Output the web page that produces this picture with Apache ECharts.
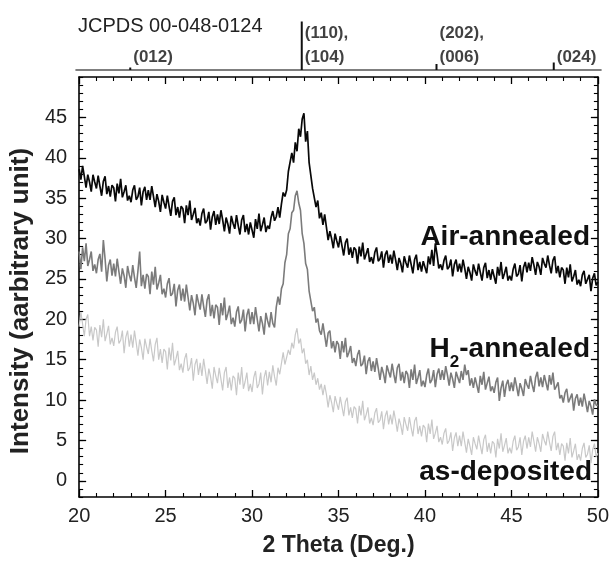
<!DOCTYPE html>
<html>
<head>
<meta charset="utf-8">
<script src="https://cdn.jsdelivr.net/npm/echarts@6/dist/echarts.min.js"></script>
<style>html,body{margin:0;padding:0;background:#fff;}#c{width:612px;height:562px;}</style>
</head>
<body>
<div id="c"></div>
<script>
// 2θ sampling of the scans
const thetaStart = 20;
const thetaStep = 0.1;

// Air-annealed (black), 20.0 .. 50.0 deg
const airAnnealed = [
38.6,37.3,39.0,37.7,36.3,37.9,37.0,35.8,37.9,37.0,
36.2,37.8,36.5,35.3,37.1,37.7,35.5,36.5,35.2,36.6,
36.3,34.6,36.8,35.6,37.4,35.1,35.8,36.6,34.7,35.3,
34.5,36.0,36.6,34.8,35.2,36.3,34.1,35.8,36.4,34.8,
36.0,34.8,36.5,35.2,33.9,35.5,34.6,33.3,35.4,34.5,
33.7,35.3,34.0,32.8,34.6,35.1,32.9,33.9,32.6,34.0,
33.7,31.9,34.1,32.9,34.7,32.3,33.0,33.8,31.9,32.5,
31.6,33.1,33.7,31.9,32.2,33.3,31.1,32.7,33.4,31.7,
33.0,31.8,33.5,32.3,30.9,32.6,31.8,30.6,32.8,31.9,
31.2,32.9,31.6,30.5,32.3,32.9,30.8,31.8,30.5,32.0,
31.8,30.1,32.4,31.2,33.1,30.9,31.7,32.6,30.8,31.6,
31.2,32.6,33.4,32.2,32.7,33.9,32.6,34.3,35.7,35.2,
36.0,38.3,38.1,40.6,39.4,41.9,40.8,43.6,42.6,44.8,
45.5,42.0,43.3,39.4,39.3,36.2,36.1,33.9,34.7,32.5,
33.2,31.7,33.0,31.4,29.8,30.9,30.0,28.8,30.6,29.7,
28.9,30.3,29.1,27.9,29.5,30.0,28.0,28.9,27.6,28.9,
28.6,26.9,29.0,27.8,29.5,27.4,28.1,28.8,27.1,27.7,
26.9,28.3,28.9,27.2,27.5,28.4,26.4,28.0,28.5,27.0,
28.0,26.9,28.5,27.4,26.1,27.6,26.9,25.8,27.8,27.0,
26.4,27.9,26.8,25.7,27.4,28.0,26.1,27.1,25.9,27.2,
27.2,25.7,27.8,26.8,28.6,26.6,29.4,28.0,26.3,26.8,
26.1,27.3,27.9,26.2,26.5,27.4,25.3,26.8,27.4,25.9,
26.9,25.8,27.4,26.3,25.0,26.5,25.8,24.8,26.8,26.0,
25.4,26.9,25.8,24.8,26.4,27.0,25.1,26.1,24.9,26.2,
26.0,24.4,26.5,25.4,27.1,25.0,25.7,26.5,24.8,25.4,
24.8,26.2,26.9,25.3,25.6,26.7,24.7,26.4,27.1,25.8,
27.0,26.0,27.7,26.7,25.5,27.1,26.5,25.5,27.6,26.9,
26.4,27.9,26.7,25.7,27.3,27.8,25.7,26.6,25.2,26.4,
26.1,24.4,26.4,25.2,26.8,24.7,25.3,26.1,24.3,24.9,
24.1,25.5,26.0,24.4,24.6,25.5,23.5,25.1,25.7,24.2,
24.6
];

// H2-annealed (grey)
const h2Annealed = [
28.4,26.2,28.9,27.2,29.4,26.6,27.4,28.4,26.0,26.8,
25.7,27.4,28.1,25.9,29.8,27.5,24.7,26.7,27.4,25.4,
26.9,25.3,27.5,25.9,24.4,26.3,25.4,23.9,26.6,25.5,
24.7,26.7,25.2,23.9,26.0,28.4,24.1,25.5,23.8,25.6,
25.3,23.1,25.9,24.3,26.5,23.7,24.5,25.5,23.1,23.8,
22.7,24.4,25.1,22.9,23.2,24.4,21.6,23.6,24.3,22.3,
23.8,22.2,24.3,22.7,21.1,23.0,22.0,20.5,23.1,22.1,
21.2,23.1,21.6,20.3,22.4,23.1,20.4,21.8,20.1,21.8,
21.5,19.3,22.0,20.5,22.7,19.9,20.7,21.7,19.4,20.2,
19.1,20.9,21.6,19.5,19.9,21.2,18.5,20.5,21.3,19.4,
20.9,19.4,21.5,20.0,18.5,20.4,19.5,18.1,20.8,19.8,
19.0,20.9,19.5,19.0,21.5,22.8,21.8,23.8,24.4,27.0,
28.0,30.6,31.2,33.2,33.5,35.3,35.9,34.4,33.5,30.6,
29.4,26.9,26.2,23.5,23.3,21.0,21.5,19.6,20.1,18.6,
18.1,19.5,18.0,16.6,18.3,18.6,16.4,17.3,15.9,17.3,
16.9,15.1,17.3,15.9,17.7,15.3,15.9,16.7,14.6,15.2,
14.2,15.6,16.2,14.2,14.5,15.5,13.2,14.8,15.3,13.6,
14.8,13.5,15.2,13.9,12.5,14.1,13.3,12.1,14.3,13.5,
12.8,14.5,13.2,12.1,14.0,14.5,12.4,13.5,12.1,13.6,
13.2,11.5,13.8,12.5,14.4,12.0,12.8,13.7,11.7,12.4,
11.6,13.1,13.9,12.1,12.5,13.7,11.6,13.2,13.9,12.5,
13.7,12.5,14.2,13.1,11.8,13.4,12.6,11.5,13.5,12.8,
12.1,13.6,12.5,14.4,13.1,13.7,11.8,12.7,11.5,12.8,
12.6,10.9,13.0,11.9,13.5,11.3,12.1,12.9,11.1,11.7,
10.9,12.2,12.8,9.9,11.5,12.4,10.4,11.9,12.5,11.1,
12.2,11.1,12.8,11.7,10.5,12.1,11.4,10.5,12.6,11.9,
11.4,13.0,11.9,11.0,12.8,13.5,11.7,12.8,11.6,13.1,
12.9,11.2,13.1,11.9,13.4,11.3,11.7,12.2,10.2,10.6,
9.7,10.9,11.4,9.7,9.9,10.8,8.7,10.2,10.7,9.3,
10.3,9.2,10.8,9.7,8.5,9.9,9.2,8.2,10.1,9.4,
9.3
];

// as-deposited (light grey)
const asDeposited = [
19.1,20.9,19.4,17.9,20.0,20.6,17.9,19.1,17.4,19.0,
18.7,16.6,19.3,17.8,20.0,17.3,18.2,19.2,16.9,17.7,
16.7,18.4,19.1,17.0,17.4,18.6,15.8,17.8,18.6,16.6,
18.1,16.5,18.6,17.1,15.5,17.5,16.5,15.0,17.6,16.6,
15.7,17.6,16.1,14.8,16.9,17.7,15.0,16.3,14.6,16.3,
16.0,13.8,16.5,14.9,17.1,14.3,15.1,16.1,13.7,14.5,
13.4,15.1,15.8,13.6,14.0,15.2,12.4,14.4,15.1,13.1,
14.6,13.0,15.1,13.6,12.0,13.9,12.9,11.4,14.1,13.0,
12.1,14.0,12.6,11.2,13.4,14.1,11.5,12.8,11.2,13.0,
12.7,10.6,13.4,11.9,14.1,11.4,12.3,13.4,11.1,12.0,
11.0,12.8,13.6,11.5,12.0,13.4,10.7,12.8,13.7,11.8,
13.5,12.2,14.3,12.9,11.8,14.0,13.2,13.0,15.9,14.4,
14.6,16.2,15.6,17.1,16.4,18.1,18.9,17.0,17.6,15.8,
16.4,14.5,15.0,13.1,14.2,12.5,13.4,11.9,12.7,11.3,
12.0,10.6,11.9,10.7,9.1,10.6,9.7,8.5,10.5,9.6,
8.8,10.4,9.2,8.0,9.8,10.3,8.1,9.1,7.8,9.2,
8.9,7.1,9.3,8.1,9.9,7.5,8.2,9.1,7.1,7.8,
6.9,8.4,9.0,7.2,7.5,8.6,6.4,8.0,8.7,7.0,
8.2,7.0,8.7,7.5,6.1,7.7,6.9,5.7,7.9,7.0,
6.2,7.9,6.6,5.5,7.4,7.9,5.8,6.8,5.5,6.9,
6.6,4.8,7.1,5.8,7.6,5.2,5.9,6.8,4.8,5.4,
4.5,5.9,6.5,4.6,5.0,6.0,3.7,5.3,6.0,4.3,
5.6,4.3,6.1,4.8,3.5,5.2,4.3,3.2,5.4,4.6,
3.9,5.6,4.4,3.3,5.1,5.7,3.6,4.7,3.4,4.9,
4.6,2.9,5.2,4.0,5.9,3.6,4.4,5.3,3.4,4.1,
3.4,4.9,5.6,3.8,4.2,5.4,3.2,4.9,5.6,4.0,
5.4,4.2,6.1,4.9,3.6,5.4,4.6,3.6,5.8,5.0,
4.4,6.1,4.8,3.7,5.5,6.1,3.8,4.7,3.2,4.6,
4.3,2.5,4.7,3.4,5.3,2.9,3.7,4.6,2.6,3.3,
2.5,4.0,4.7,2.9,3.3,4.4,2.2,3.9,4.6,3.0,
3.4
];

// JCPDS 00-048-0124 reference pattern
const refTitle = 'JCPDS 00-048-0124';
const refPeakPos = [23.1, 32.9, 40.6, 47.3];
const refPeakInt = [5, 97, 12, 15];
const refPeakLabel = ['(012)', '(110),\n(104)', '(202),\n(006)', '(024)'];

// axes
const yTickValues = [0, 5, 10, 15, 20, 25, 30, 35, 40, 45];
const seriesLabels = ['Air-annealed', 'H2-annealed', 'as-deposited'];

const toPairs = arr => arr.map((v, i) => [Number((thetaStart + i * thetaStep).toFixed(1)), v]);

const FONT = 'Liberation Sans, Arial, sans-serif';
const chart = echarts.init(document.getElementById('c'), null, { renderer: 'canvas' });

const majorTick = { show: true, inside: true, length: 7, lineStyle: { color: '#000', width: 1.3 } };
const minorTick = { show: true, inside: true, length: 4, lineStyle: { color: '#000', width: 1.1 } };
const frameLine = { show: true, onZero: false, lineStyle: { color: '#000', width: 1.6 } };

const option = {
  animation: false,
  backgroundColor: '#fff',
  title: {
    text: refTitle, left: 73, top: 11,
    textStyle: { fontFamily: FONT, fontSize: 20, fontWeight: 'normal', color: '#222' }
  },
  grid: [
    { left: 76, right: 11, top: 77, bottom: 60 },
    { left: 76, right: 11, top: 20, height: 50 }
  ],
  xAxis: [
    {
      gridIndex: 0, type: 'value', min: 20, max: 50, interval: 5, position: 'bottom',
      axisLine: frameLine, axisTick: majorTick,
      minorTick: { show: true, splitNumber: 5, length: 4, lineStyle: { color: '#000', width: 1.1 } },
      splitLine: { show: false }, minorSplitLine: { show: false },
      axisLabel: { fontFamily: FONT, fontSize: 20, color: '#222', margin: 9 },
      name: '2 Theta (Deg.)', nameLocation: 'middle', nameGap: 37,
      nameTextStyle: { fontFamily: FONT, fontSize: 23, fontWeight: 'bold', color: '#222' }
    },
    {
      gridIndex: 0, type: 'value', min: 20, max: 50, interval: 5, position: 'top',
      axisLine: frameLine, axisTick: majorTick,
      minorTick: { show: true, splitNumber: 5, length: 4, lineStyle: { color: '#000', width: 1.1 } },
      splitLine: { show: false }, axisLabel: { show: false }
    },
    {
      gridIndex: 1, type: 'value', min: 20, max: 50, position: 'bottom',
      axisLine: { show: true, onZero: false, lineStyle: { color: '#555', width: 1.6 } },
      axisTick: { show: false }, axisLabel: { show: false }, splitLine: { show: false }
    }
  ],
  yAxis: [
    {
      gridIndex: 0, type: 'value', min: -2, max: 50, position: 'left', offset: 0,
      axisLine: frameLine,
      axisTick: Object.assign({}, majorTick, { customValues: yTickValues }),
      axisLabel: { fontFamily: FONT, fontSize: 20, color: '#222', margin: 12, customValues: yTickValues },
      splitLine: { show: false },
      name: 'Intensity (aarbitrary unit)', nameLocation: 'middle', nameGap: 44,
      nameTextStyle: { fontFamily: FONT, fontSize: 26, fontWeight: 'bold', color: '#222', padding: [0, 28, 0, 0] }
    },
    {
      gridIndex: 0, type: 'value', min: -2, max: 50, position: 'right', offset: 0,
      axisLine: frameLine,
      axisTick: Object.assign({}, majorTick, { customValues: yTickValues }),
      axisLabel: { show: false }, splitLine: { show: false }
    },
    {
      gridIndex: 0, type: 'value', min: -2, max: 50, interval: 1, position: 'left', offset: 0,
      axisLine: { show: false }, axisTick: minorTick, axisLabel: { show: false }, splitLine: { show: false }
    },
    {
      gridIndex: 0, type: 'value', min: -2, max: 50, interval: 1, position: 'right', offset: 0,
      axisLine: { show: false }, axisTick: minorTick, axisLabel: { show: false }, splitLine: { show: false }
    },
    {
      gridIndex: 1, type: 'value', min: 0, max: 100, show: false
    }
  ],
  series: [
    {
      name: seriesLabels[2], type: 'line', xAxisIndex: 0, yAxisIndex: 0,
      data: toPairs(asDeposited), showSymbol: false, symbol: 'none',
      lineStyle: { color: '#c8c8c8', width: 1.2 }, z: 2
    },
    {
      name: seriesLabels[1], type: 'line', xAxisIndex: 0, yAxisIndex: 0,
      data: toPairs(h2Annealed), showSymbol: false, symbol: 'none',
      lineStyle: { color: '#7b7b7b', width: 1.6 }, z: 3
    },
    {
      name: seriesLabels[0], type: 'line', xAxisIndex: 0, yAxisIndex: 0,
      data: toPairs(airAnnealed), showSymbol: false, symbol: 'none',
      lineStyle: { color: '#080808', width: 1.7 }, z: 4
    },
    {
      name: 'reference sticks', type: 'bar', xAxisIndex: 2, yAxisIndex: 4,
      data: refPeakPos.map((p, i) => [p, refPeakInt[i]]),
      barWidth: 2, itemStyle: { color: '#111' }
    },
    {
      name: 'reference labels', type: 'scatter', xAxisIndex: 2, yAxisIndex: 4,
      symbolSize: 0,
      data: refPeakPos.map((p, i) => ({
        name: refPeakLabel[i],
        value: [p, refPeakLabel[i].indexOf('\n') >= 0 ? 50 : 26]
      })),
      label: {
        show: true, position: 'right', distance: 3, formatter: p => p.name,
        fontFamily: FONT, fontSize: 17, fontWeight: 'bold', lineHeight: 24, color: '#111'
      }
    }
  ],
  graphic: [
    {
      type: 'text', right: 22, top: 223,
      style: { text: 'Air-annealed', font: 'bold 28px ' + FONT, fill: '#111' }
    },
    {
      type: 'text', right: 22, top: 335,
      style: {
        text: '{b|H}{s|2}{b|-annealed}',
        rich: {
          b: { fontFamily: FONT, fontSize: 28, fontWeight: 'bold', fill: '#111', color: '#111' },
          s: { fontFamily: FONT, fontSize: 17, fontWeight: 'bold', fill: '#111', color: '#111', padding: [26, 0, 0, 0] }
        }
      }
    },
    {
      type: 'text', right: 20, top: 458,
      style: { text: 'as-deposited', font: 'bold 28px ' + FONT, fill: '#111' }
    }
  ]
};
chart.setOption(option);
</script>
</body>
</html>
